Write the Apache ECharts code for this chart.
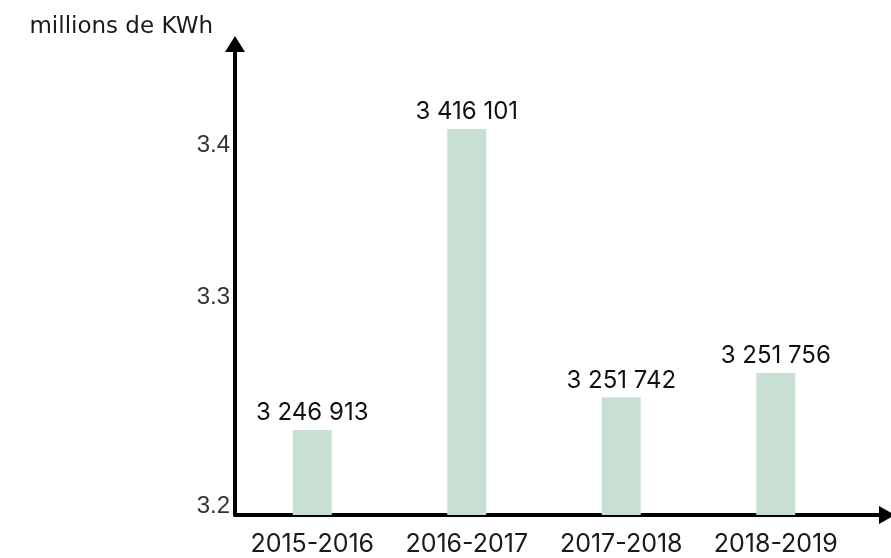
<!DOCTYPE html>
<html>
<head>
<meta charset="utf-8">
<script src="https://cdn.jsdelivr.net/npm/echarts@6/dist/echarts.min.js"></script>
<style>
html,body{margin:0;padding:0;background:#fff;}
#chart{width:891px;height:558px;}
</style>
</head>
<body>
<div id="chart"></div>
<script>
// Categories (x axis)
const categories = ['2015-2016', '2016-2017', '2017-2018', '2018-2019'];
// Values printed above the bars (kWh)
const consumption = [3246913, 3416101, 3251742, 3251756];
// Bar heights as drawn in the picture, read against the y axis (millions de KWh)
const barHeights = [3.2125, 3.4105, 3.234, 3.250];
// Y tick labels and where they sit on the drawn axis
const yTickLabels = ['3.2', '3.3', '3.4'];
const yTickValues = [3.162, 3.3, 3.4];
const yAxisName = 'millions de KWh';

function fmt(n) {
  return String(n).replace(/\B(?=(\d{3})+(?!\d))/g, ' ');
}

const chart = echarts.init(document.getElementById('chart'));
chart.setOption({
  animation: false,
  grid: { left: 235, top: 44, right: 4, bottom: 43, containLabel: false },
  xAxis: {
    type: 'value',
    min: -0.5,
    max: 3.72,
    splitLine: { show: false },
    axisTick: { show: false },
    axisLine: {
      show: true,
      onZero: false,
      lineStyle: { color: '#000', width: 4 },
      symbol: ['none', 'triangle'],
      symbolSize: [18, 16]
    },
    axisLabel: {
      customValues: [0, 1, 2, 3],
      formatter: v => categories[Math.round(v)] || '',
      color: '#1a1a1a',
      fontFamily: 'Inter',
      fontSize: 25,
      margin: 17
    }
  },
  yAxis: {
    type: 'value',
    min: 3.1566,
    max: 3.4664,
    name: yAxisName,
    nameLocation: 'end',
    nameGap: 5,
    nameTextStyle: {
      align: 'right',
      color: '#1a1a1a',
      fontFamily: 'DejaVu Sans',
      fontSize: 23,
      padding: [0, 22, 0, 0]
    },
    splitLine: { show: false },
    axisTick: { show: false },
    axisLine: {
      show: true,
      onZero: false,
      lineStyle: { color: '#000', width: 4 },
      symbol: ['none', 'triangle'],
      symbolSize: [20, 16]
    },
    axisLabel: {
      customValues: yTickValues,
      formatter: v => {
        const i = yTickValues.findIndex(t => Math.abs(t - v) < 1e-6);
        return i >= 0 ? yTickLabels[i] : '';
      },
      color: '#333',
      fontFamily: 'Liberation Sans',
      fontSize: 24,
      margin: 5
    }
  },
  series: [{
    type: 'bar',
    barWidth: 39,
    data: barHeights.map((v, i) => [i, v]),
    itemStyle: { color: '#c8e0d4' },
    z: 1,
    label: {
      show: true,
      position: 'top',
      distance: 5,
      formatter: p => fmt(consumption[p.dataIndex]),
      color: '#111',
      fontFamily: 'Inter',
      fontSize: 24
    }
  }]
});
</script>
</body>
</html>
